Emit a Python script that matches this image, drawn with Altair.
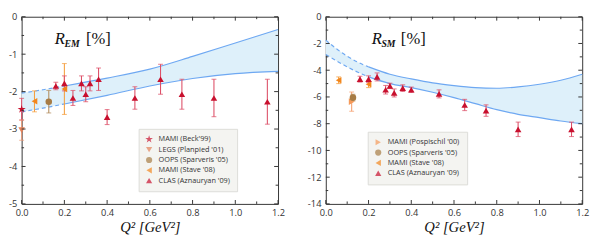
import altair as alt
import pandas as pd

W, H = 263, 192

STAR = "M0,-1.3L0.292,-0.402L1.236,-0.402L0.472,0.153L0.764,1.052L0,0.497L-0.764,1.052L-0.472,0.153L-1.236,-0.402L-0.292,-0.402Z"

# ---------------- R_EM data ----------------
beck_q = [0.0]; beck_v = [-2.47]; beck_e = [0.29]
legs_q = [0.0]; legs_v = [-3.03]; legs_e = [0.27]
oops_em_q = [0.127]; oops_em_v = [-2.27]; oops_em_e = [0.3]
stave_em_q = [0.06, 0.20]; stave_em_v = [-2.26, -1.93]; stave_em_e = [0.28, 0.68]
clas_q = [0.16, 0.20, 0.24, 0.28, 0.30, 0.32, 0.36, 0.40, 0.53, 0.65, 0.75, 0.90, 1.15]
clas_em_v = [-1.85, -1.78, -2.17, -1.78, -2.07, -1.78, -1.67, -2.68, -2.17, -1.67, -2.07, -2.17, -2.27]
clas_em_e = [0.1, 0.2, 0.2, 0.2, 0.2, 0.2, 0.3, 0.2, 0.3, 0.4, 0.4, 0.5, 0.6]

em_band_q = [0.0, 0.1, 0.2, 0.4, 0.6, 0.8, 1.0, 1.2]
em_band_up = [-2.04, -1.95, -1.85, -1.64, -1.40, -1.06, -0.70, -0.34]
em_band_lo = [-2.54, -2.44, -2.33, -2.10, -1.85, -1.65, -1.52, -1.46]

# ---------------- R_SM data ----------------
posp_q = [0.121]; posp_v = [-6.35]; posp_e = [0.72]
oops_sm_q = [0.127]; oops_sm_v = [-6.05]; oops_sm_e = [0.25]
stave_sm_q = [0.06, 0.20]; stave_sm_v = [-4.75, -5.05]; stave_sm_e = [0.25, 0.25]
clas_sm_v = [-4.67, -4.67, -4.5, -5.46, -5.17, -5.7, -5.34, -5.46, -5.77, -6.6, -7.02, -8.42, -8.42]
clas_sm_e = [0.22, 0.25, 0.3, 0.32, 0.2, 0.3, 0.25, 0.2, 0.3, 0.42, 0.43, 0.54, 0.54]

sm_band_q = [0.0, 0.05, 0.1, 0.15, 0.2, 0.3, 0.4, 0.5, 0.6, 0.7, 0.8, 0.9, 1.0, 1.1, 1.2]
sm_band_up = [-1.75, -2.4, -2.95, -3.4, -3.75, -4.3, -4.65, -4.95, -5.15, -5.3, -5.35, -5.25, -5.05, -4.75, -4.3]
sm_band_lo = [-2.82, -3.3, -3.75, -4.15, -4.5, -5.0, -5.3, -5.65, -6.05, -6.5, -6.95, -7.3, -7.55, -7.8, -8.0]

x_ticks = [round(i * 0.1, 1) for i in range(13)]
x_labels = [0.0, 0.2, 0.4, 0.6, 0.8, 1.0, 1.2]

LINE = "#6ea8f2"
FILL = "#def0fa"
FRAME = "#333333"


def panel(series, band_q, band_up, band_lo, ydom, ylabels, yminor, legx, legy, sub):
    rows = []
    for name, qs, vs, es, col, ecol, shp in series:
        for q, v, e in zip(qs, vs, es):
            rows.append(dict(q=q, v=v, lo=v - e, hi=v + e, series=name, ecol=ecol))
    df = pd.DataFrame(rows)
    caps = pd.concat([
        df[["q", "lo", "series", "ecol"]].rename(columns={"lo": "v"}),
        df[["q", "hi", "series", "ecol"]].rename(columns={"hi": "v"}),
    ])
    names = [s[0] for s in series]
    cols = [s[4] for s in series]
    shps = [s[6] for s in series]

    bdf = pd.DataFrame(dict(q=band_q, up=band_up, lo=band_lo))
    blong = pd.concat([
        pd.DataFrame(dict(q=band_q, v=band_up, curve="up")),
        pd.DataFrame(dict(q=band_q, v=band_lo, curve="lo")),
    ])
    dashed = blong[blong.q <= 0.2 + 1e-9]
    solid = blong[blong.q >= 0.2 - 1e-9]

    xs = alt.Scale(domain=[0, 1.2], nice=False, zero=False, padding=0)
    ys = alt.Scale(domain=ydom, nice=False, zero=False, padding=0)
    xaxis = alt.Axis(values=x_labels, format=".1f", domain=False, ticks=False, grid=False,
                     labelPadding=4, labelFlush=False)
    yaxis = alt.Axis(values=ylabels, domain=False, ticks=False, grid=False, labelPadding=5,
                     labelFlush=False,
                     labelExpr="datum.value == 0 ? '0' : '-' + abs(datum.value)")

    def X(f):
        return alt.X(f"{f}:Q", scale=xs, axis=xaxis, title="Q² [GeV²]")

    def Y(f):
        return alt.Y(f"{f}:Q", scale=ys, axis=yaxis, title=None)

    area = alt.Chart(bdf).mark_area(color=FILL, interpolate="monotone").encode(
        x=X("q"), y=Y("up"), y2="lo")
    ldash = alt.Chart(dashed).mark_line(color=LINE, strokeWidth=1.2, strokeDash=[4, 3],
                                        interpolate="monotone").encode(
        x=X("q"), y=Y("v"), detail="curve:N")
    lsolid = alt.Chart(solid).mark_line(color=LINE, strokeWidth=1.2,
                                        interpolate="monotone").encode(
        x=X("q"), y=Y("v"), detail="curve:N")
    ebar = alt.Chart(df).mark_rule(strokeWidth=1.1).encode(
        x=X("q"), y=Y("lo"), y2="hi", color=alt.Color("ecol:N", scale=None))
    ecap = alt.Chart(caps).mark_tick(orient="horizontal", size=5, thickness=1.1).encode(
        x=X("q"), y=Y("v"), color=alt.Color("ecol:N", scale=None))
    leg = alt.Legend(orient="none", legendX=legx, legendY=legy, title=None,
                     fillColor="#f4f4f1", strokeColor="#dcdcd8", padding=7,
                     labelFont="Open Sans", labelFontSize=7.5, labelColor="#333",
                     symbolSize=40, rowPadding=1.6, symbolStrokeWidth=0, labelOffset=6)
    pts = alt.Chart(df).mark_point(filled=True, size=45, opacity=1).encode(
        x=X("q"), y=Y("v"),
        color=alt.Color("series:N", scale=alt.Scale(domain=names, range=cols), legend=leg, sort=names),
        shape=alt.Shape("series:N", scale=alt.Scale(domain=names, range=shps), legend=leg, sort=names),
    )

    xt_major = pd.DataFrame(dict(q=x_labels))
    xt_minor = pd.DataFrame(dict(q=[t for t in x_ticks if t not in x_labels]))
    yt_major = pd.DataFrame(dict(v=ylabels))
    yt_minor = pd.DataFrame(dict(v=yminor))
    tick_layers = []
    for dfx, ln in [(xt_major, 4), (xt_minor, 2.5)]:
        tick_layers.append(alt.Chart(dfx).mark_rule(color=FRAME, strokeWidth=1).encode(
            x=X("q"), y=alt.value(H), y2=alt.value(H - ln)))
        tick_layers.append(alt.Chart(dfx).mark_rule(color=FRAME, strokeWidth=1).encode(
            x=X("q"), y=alt.value(0), y2=alt.value(ln)))
    for dfy, ln in [(yt_major, 4), (yt_minor, 2.5)]:
        tick_layers.append(alt.Chart(dfy).mark_rule(color=FRAME, strokeWidth=1).encode(
            y=Y("v"), x=alt.value(0), x2=alt.value(ln)))
        tick_layers.append(alt.Chart(dfy).mark_rule(color=FRAME, strokeWidth=1).encode(
            y=Y("v"), x=alt.value(W), x2=alt.value(W - ln)))

    tx = 34 if sub == "EM" else 47
    tR = alt.Chart(pd.DataFrame(dict(t=["R"]))).mark_text(
        font="Liberation Serif", fontStyle="italic", fontSize=17, align="left",
        baseline="alphabetic", color="#111").encode(
        x=alt.value(tx), y=alt.value(28), text="t:N")
    tS = alt.Chart(pd.DataFrame(dict(t=[sub]))).mark_text(
        font="Liberation Serif", fontStyle="italic", fontWeight="bold", fontSize=10, align="left",
        baseline="alphabetic", color="#111").encode(
        x=alt.value(tx + 10), y=alt.value(31), text="t:N")
    tP = alt.Chart(pd.DataFrame(dict(t=["[%]"]))).mark_text(
        font="Liberation Serif", fontSize=17, align="left",
        baseline="alphabetic", color="#111").encode(
        x=alt.value(tx + 32 if sub == "EM" else tx + 30), y=alt.value(28), text="t:N")

    return alt.layer(area, ldash, lsolid, ebar, ecap, pts, *tick_layers, tR, tS, tP).properties(
        width=W, height=H)


RED = "#c8102e"
REDBAR = "#dd5068"
em_series = [
    ("MAMI (Beck'99)", beck_q, beck_v, beck_e, RED, REDBAR, STAR),
    ("LEGS (Planpied '01)", legs_q, legs_v, legs_e, "#e3825a", "#eb9a78", "triangle-down"),
    ("OOPS (Sparveris '05)", oops_em_q, oops_em_v, oops_em_e, "#a77c45", "#b48f60", "circle"),
    ("MAMI (Stave '08)", stave_em_q, stave_em_v, stave_em_e, "#f2861c", "#f5a040", "triangle-left"),
    ("CLAS (Aznauryan '09)", clas_q, clas_em_v, clas_em_e, RED, REDBAR, "triangle-up"),
]
sm_series = [
    ("MAMI (Pospischil '00)", posp_q, posp_v, posp_e, "#f59a5a", "#f5a070", "triangle-right"),
    ("OOPS (Sparveris '05)", oops_sm_q, oops_sm_v, oops_sm_e, "#a77c45", "#b48f60", "circle"),
    ("MAMI (Stave '08)", stave_sm_q, stave_sm_v, stave_sm_e, "#f2861c", "#f5a040", "triangle-left"),
    ("CLAS (Aznauryan '09)", clas_q, clas_sm_v, clas_sm_e, RED, REDBAR, "triangle-up"),
]

left = panel(em_series, em_band_q, em_band_up, em_band_lo, [-5, 0],
             [-5, -4, -3, -2, -1, 0], [-4.5, -3.5, -2.5, -1.5, -0.5], 120, 115, "EM")
right = panel(sm_series, sm_band_q, sm_band_up, sm_band_lo, [-14, 0],
              [-14, -12, -10, -8, -6, -4, -2, 0], [-13, -11, -9, -7, -5, -3, -1], 43, 118, "SM")

chart = alt.hconcat(left, right, spacing=21).resolve_scale(
    color="independent", shape="independent", x="independent", y="independent"
).resolve_legend(color="independent", shape="independent").properties(
    padding={"left": 0, "top": 0, "right": 0, "bottom": 0}
).configure_view(stroke=FRAME, strokeWidth=1).configure_axis(
    labelFont="Open Sans", labelFontSize=9.5, labelColor="#333",
    titleFont="Liberation Serif", titleFontStyle="italic", titleFontWeight="normal",
    titleFontSize=15, titleColor="#111", titlePadding=3,
)

chart.save("out.html", embed_options={"renderer": "svg", "actions": False})
